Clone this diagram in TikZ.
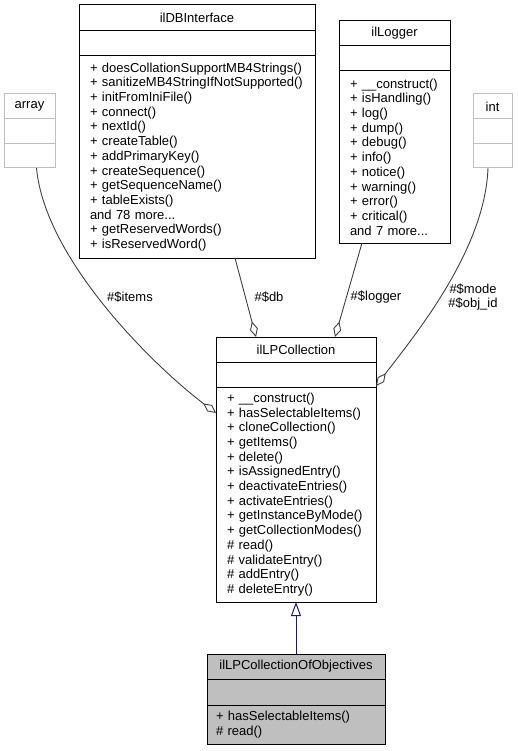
\documentclass[tikz,border=0pt]{standalone}
\usepackage{fontspec}
\setmainfont{Liberation Sans}
\usetikzlibrary{positioning,arrows.meta}
\definecolor{edgegrey}{HTML}{404040}
\definecolor{boxgrey}{HTML}{BFBFBF}
\definecolor{inhblue}{HTML}{191970}

\tikzset{
  part/.style = {draw = black, line width = 1pt, fill = white, inner sep = 0pt, outer sep = 0pt,
                 font = \fontsize{13}{14.7}\selectfont},
  ghost/.style = {part, draw = boxgrey},
  lbl/.style = {font = \fontsize{13}{14.7}\selectfont, align = center, inner sep = 0pt},
  aggr/.style = {draw = edgegrey, line width = .9pt, -{Diamond[open, length = 16pt, width = 8pt]}},
  inherit/.style = {draw = inhblue, line width = 1pt, -{Triangle[open, length = 14pt, width = 10pt]}}
}

\begin{document}
\begin{tikzpicture}[x = 1pt, y = -1pt]
\useasboundingbox (0,0) rectangle (518,751);

% ilDBInterface
\node[part, anchor = north west, minimum width = 236pt, minimum height = 26pt] (dbT) at (79,5) {ilDBInterface};
\node[part, below = 0pt of dbT, minimum width = 236pt, minimum height = 25pt] (dbA) {};
\node[part, below = 0pt of dbA, text width = 214pt, inner xsep = 11pt, align = left, minimum height = 202pt] (dbM)
  {+ doesCollationSupportMB4Strings()\\+ sanitizeMB4StringIfNotSupported()\\+ initFromIniFile()\\+ connect()\\+ nextId()\\+ createTable()\\+ addPrimaryKey()\\+ createSequence()\\+ getSequenceName()\\+ tableExists()\\and 78 more...\\+ getReservedWords()\\+ isReservedWord()};

% ilLogger
\node[part, anchor = north west, minimum width = 111pt, minimum height = 25pt] (logT) at (339,21) {ilLogger};
\node[part, below = 0pt of logT, minimum width = 111pt, minimum height = 25pt] (logA) {};
\node[part, below = 0pt of logA, text width = 89pt, inner xsep = 11pt, align = left, minimum height = 172pt] (logM)
  {+ \_\_construct()\\+ isHandling()\\+ log()\\+ dump()\\+ debug()\\+ info()\\+ notice()\\+ warning()\\+ error()\\+ critical()\\and 7 more...};

% array
\node[ghost, anchor = north west, minimum width = 51pt, minimum height = 25pt] (arrT) at (4,94) {array};
\node[ghost, below = 0pt of arrT, minimum width = 51pt, minimum height = 25pt] (arrA) {};
\node[ghost, below = 0pt of arrA, minimum width = 51pt, minimum height = 24pt] (arrM) {};

% int
\node[ghost, anchor = north west, minimum width = 39pt, minimum height = 25pt] (intT) at (473,94) {int};
\node[ghost, below = 0pt of intT, minimum width = 39pt, minimum height = 25pt] (intA) {};
\node[ghost, below = 0pt of intA, minimum width = 39pt, minimum height = 24pt] (intM) {};

% ilLPCollection
\node[part, anchor = north west, minimum width = 160pt, minimum height = 25pt] (collT) at (216,337) {ilLPCollection};
\node[part, below = 0pt of collT, minimum width = 160pt, minimum height = 25pt] (collA) {};
\node[part, below = 0pt of collA, text width = 138pt, inner xsep = 11pt, align = left, minimum height = 215pt] (collM)
  {+ \_\_construct()\\+ hasSelectableItems()\\+ cloneCollection()\\+ getItems()\\+ delete()\\+ isAssignedEntry()\\+ deactivateEntries()\\+ activateEntries()\\+ getInstanceByMode()\\+ getCollectionModes()\\\# read()\\\# validateEntry()\\\# addEntry()\\\# deleteEntry()};

% ilLPCollectionOfObjectives
\node[part, fill = boxgrey, anchor = north west, minimum width = 178pt, minimum height = 25pt] (objT) at (207,654) {ilLPCollectionOfObjectives};
\node[part, fill = boxgrey, below = 0pt of objT, minimum width = 178pt, minimum height = 26pt] (objA) {};
\node[part, fill = boxgrey, below = 0pt of objA, text width = 160pt, inner xsep = 9pt, align = left, minimum height = 39pt] (objM)
  {+ hasSelectableItems()\\\# read()};

% members
\draw[aggr] ([xshift = 7pt]arrM.south) .. controls (45,260) and (155,367) .. ([yshift = -26pt]collM.north west);
\draw[aggr] ([xshift = 38pt]dbM.south) -- ([xshift = -40pt]collT.north);
\draw[aggr] ([xshift = -32.5pt]logM.south) -- ([xshift = 39pt]collT.north);
\draw[aggr] ([xshift = -4.5pt]intM.south) .. controls (485,250) and (415,335) .. ([yshift = 1pt]collA.south east);

\node[lbl] (itemsL) at (130,297) {\#\$items};
\node[lbl] (dbL) at (269,297) {\#\$db};
\node[lbl] (logL) at (376,297) {\#\$logger};
\node[lbl] (modeL) at (473,297) {\#\$mode\\\#\$obj\_id};

% base class
\draw[inherit] (objT.north) -- (collM.south);
\end{tikzpicture}
\end{document}
